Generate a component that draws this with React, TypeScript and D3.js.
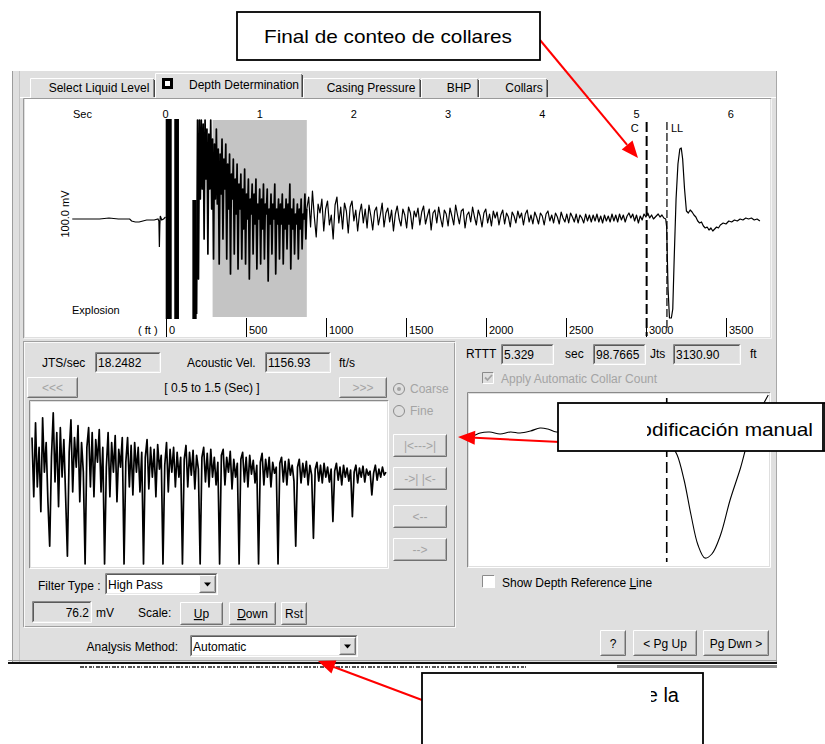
import React from "react";
import * as d3 from "d3";

type Pt = [number, number];

// ---- values read off the screenshot ----
const tabNames = ["Select Liquid Level", "Depth Determination", "Casing Pressure", "BHP", "Collars"];
const secTicks = [0, 1, 2, 3, 4, 5, 6];
const ftTicks = [0, 500, 1000, 1500, 2000, 2500, 3000, 3500];

// trace before the shot: [sec, mV]
const preShot: Pt[] = [
  [-0.99, 0], [-0.7, 0], [-0.6, 1], [-0.5, 0], [-0.38, 0], [-0.36, -2], [-0.32, -3], [-0.28, -3],
  [-0.24, -2], [-0.2, -1], [-0.12, -1], [-0.08, 0], [-0.07, -2], [-0.065, -28], [-0.06, -6],
  [-0.055, 3], [-0.04, -1], [-0.02, 0], [0, 2],
];

// saturated explosion bursts: [sec from, sec to, top mV, bottom mV]
const burstBars = [
  [0.002, 0.066, 100, -100],
  [0.093, 0.143, 100, -100],
  [0.285, 0.331, 19, -100],
];

// first echoes, one value every 0.01 s from 0.33 s
const earlyStart = 0.33;
const earlyStep = 0.01;
const earlyNoise = [
  -95, 99, -60, 99, 20, 99, 30, 95, -20, 99,
  40, 90, -35, 85, 30, 99, 10, 80, -40, 75,
  20, 90, 15, 70, -45, 65, 25, 80, -20, 60,
  30, 75, -40, 55, 10, 65, -55, 45, 20, 60,
  -35, 40, 5, 55, -50, 35, 10, 45, -40, 30,
  -10, 50, -45, 25, 0, 40, -60, 20, 5, 35,
  -35, 25, -5, 40, -50, 15, 0, 30, -45, 20,
  -10, 35, -40, 15, 5, 30, -62, 10, -5, 25,
  -35, 15, 0, 35, -55, 10, -5, 20, -40, 15,
  -5, 25, -45, 10, -10, 20, -30, 15, -5, 35,
  -50, 10, -10, 20, -35, 5, -5, 15, -40, 10,
  -10, 20, -30, 5, 0, 25, -20, 10,
];

// collar noise, one value every 0.02 s from 1.52 s
const midStart = 1.52;
const midStep = 0.02;
const midNoise = [
  22, -8, 28, 2, -18, 15, 6, 20, -12, 10,
  18, -6, 4, -20, 14, 22, -4, 12, -10, 16,
  8, -14, 12, 18, -2, 9, -12, 6, 15, -4,
  10, -9, 14, 3, -11, 8, 12, -6, 4, 16,
  -8, 6, 11, -3, 9, -12, 5, 13, 0, -7,
  10, 4, -9, 12, 6, -10, 8, 2, 11, -6,
  7, 13, -5, 3, 10, -11, 6, 9, -4, 12,
  1, -8, 9, 5, -7, 11, 3, -6, 14, 4,
  -5, 8, 10, -9, 4, 7, -3, 12, 2, -6,
  9, 3, -8, 6, 10, -4, 5, -7, 8, 1,
  7, -6, 4, 9, -5, 6, 2, -8, 7, 3,
  -4, 8, 1, 6, -6, 5, 9, -3, 4, -5,
  7, 2, -5, 6, 3, -6, 5, 8, -2, 4,
  -4, 6, 2, -5, 7, 1, -3, 5, -4, 6,
  2, -3, 5, -4, 4, 1, -4, 5, -2, 4,
  -3, 4, -2, 5, -3, 3, -4, 4, -2, 3,
  -3, 5, -2, 4, -3, 5, -1, 4, -3, 3,
  6, 1, 5, -2, 4, -4, 3, -1, 5, 2,
  6, 1, 4, 0, 2,
];

// liquid level echo: [sec, mV]
const echoTrace: Pt[] = [
  [5.21, 3], [5.23, 5], [5.25, 2], [5.27, 4], [5.29, 1], [5.31, 0], [5.32, -8], [5.335, -70],
  [5.35, -99], [5.37, -99], [5.385, -90], [5.4, -40], [5.42, 20], [5.44, 55], [5.46, 70],
  [5.475, 71], [5.49, 60], [5.51, 30], [5.53, 8], [5.55, 6], [5.57, 9], [5.59, 7], [5.61, 4],
  [5.63, 2], [5.65, -2], [5.67, -4], [5.69, -3], [5.71, -7], [5.73, -9], [5.75, -8], [5.77, -11],
  [5.79, -9], [5.81, -12], [5.83, -10], [5.85, -8], [5.87, -9], [5.89, -6], [5.92, -4],
  [5.95, -5], [5.98, -2], [6.01, -3], [6.04, -1], [6.07, -2], [6.1, 0], [6.13, -1], [6.16, 1],
  [6.19, 0], [6.22, 1], [6.25, -1], [6.28, 0], [6.31, -2],
];

// zoomed, filtered window 0.5 - 1.5 s, one value every 0.005 s
const zoomWindow = [0.5, 1.5];
const zoomStep = 0.005;
const zoomTrace = [
  40, -20, 55, -10, 30, -35, 60, 5, 35, -25, -70,
  20, 65, -5, 45, -30, 50, 0, 38, -20, -80,
  25, 58, -15, 40, 10, 52, -25, 35, 5, -88,
  30, 50, -10, 45, -20, 38, 15, 48, -15, 30, -88,
  10, 45, -20, 35, 5, 42, -25, 28, 10, 40, -88,
  15, 40, -10, 32, -18, 35, 5, 30, -15, 25, -88,
  20, 38, -12, 30, 0, 28, -20, 33, 8, 22, -88,
  12, 35, -15, 28, 5, 30, -10, 25, 0, 20, -88,
  18, 32, -10, 25, 2, 27, -12, 22, 8, -88,
  20, 30, -5, 24, -10, 28, 0, 20, -8, 15, -88,
  22, 28, -8, 20, 5, 26, -12, 18, 0, 14, -88,
  18, 25, -5, 20, -10, 22, 3, 17, -6, 12, -88,
  15, 24, -8, 18, 0, 20, -10, 15, 4, 10, -88,
  14, 20, -5, 16, -8, 18, 2, 12, -4, -70,
  10, 18, -6, 14, 0, 16, -8, 12, 2, -62,
  8, 15, -4, 12, -6, 14, 0, 10, -5, 8, -45,
  6, 14, -3, 10, -8, 12, 0, 9, -4, 7, -40,
  5, 12, -6, 9, 0, 11, -5, 8, 2, 6, -18,
  4, 12, -3, 8, 0, 10, 2, 5,
];

// liquid level detail: [sec, mV]
const collarTrace: Pt[] = [
  [5.104, 8], [5.114, 12], [5.125, 13], [5.137, 11], [5.149, 13], [5.16, 12], [5.172, 14],
  [5.183, 17], [5.192, 16], [5.202, 13], [5.23, 15], [5.265, 13], [5.3, 11], [5.32, 8],
  [5.334, 0], [5.341, -10], [5.349, -35], [5.357, -70], [5.365, -100], [5.373, -113],
  [5.381, -109], [5.391, -90], [5.402, -55], [5.414, -23], [5.423, 5], [5.437, 35], [5.446, 50],
];

const depthMarkers = [
  { label: "C", ft: 3004 },
  { label: "LL", ft: 3130.9 },
];

const jtsPerSec = "18.2482";
const acousticVel = "1156.93";
const rttt = "5.329";
const joints = "98.7665";
const depthFt = "3130.90";
const scaleMv = "76.2";

const BG = "#dfdfdf";
const DIS = "#a4a4a4";
const FONT = "'Liberation Sans', Arial, sans-serif";

// classic raised / sunken edges
const edge = (x: number, y: number, w: number, h: number, tl: string, br: string) => (
  <g fill="none">
    <polyline points={`${x + 0.5},${y + h - 0.5} ${x + 0.5},${y + 0.5} ${x + w - 0.5},${y + 0.5}`} stroke={tl} />
    <polyline points={`${x + w - 0.5},${y + 0.5} ${x + w - 0.5},${y + h - 0.5} ${x + 0.5},${y + h - 0.5}`} stroke={br} />
  </g>
);

const Button = ({ x, y, w, h, label, disabled = false, under = -1 }: any) => (
  <g>
    <rect x={x} y={y} width={w} height={h} fill={BG} />
    {edge(x, y, w, h, "#ffffff", "#707070")}
    {edge(x + 1, y + 1, w - 2, h - 2, BG, "#ababab")}
    <text x={x + w / 2} y={y + h / 2 + 4.5} textAnchor="middle" fontSize={12} fill={disabled ? DIS : "#000"}>
      {under < 0
        ? label
        : [
            label.slice(0, under),
            <tspan key="u" textDecoration="underline">{label[under]}</tspan>,
            label.slice(under + 1),
          ]}
    </text>
  </g>
);

const Field = ({ x, y, w, h, value, fill = BG, right = false }: any) => (
  <g>
    <rect x={x} y={y} width={w} height={h} fill={fill} />
    {edge(x, y, w, h, "#8a8a8a", "#ffffff")}
    {edge(x + 1, y + 1, w - 2, h - 2, "#5a5a5a", "#e8e8e8")}
    <text x={right ? x + w - 3 : x + 3} y={y + h / 2 + 4.5} textAnchor={right ? "end" : "start"} fontSize={12}>
      {value}
    </text>
  </g>
);

const Combo = ({ x, y, w, h, value }: any) => (
  <g>
    <Field x={x} y={y} w={w} h={h} value={value} fill="#ffffff" />
    <Button x={x + w - 19} y={y + 2} w={17} h={h - 4} label="" />
    <path d={`M${x + w - 14},${y + h / 2 - 1.5} h7 l-3.5,4 z`} fill="#000" />
  </g>
);

const Arrow = ({ x1, y1, x2, y2 }: any) => {
  const a = Math.atan2(y2 - y1, x2 - x1);
  const L = 17;
  const W = 7;
  const bx = x2 - L * Math.cos(a);
  const by = y2 - L * Math.sin(a);
  const pts = [
    [x2, y2],
    [bx + W * Math.sin(a), by - W * Math.cos(a)],
    [bx - W * Math.sin(a), by + W * Math.cos(a)],
  ];
  return (
    <g>
      <line x1={x1} y1={y1} x2={bx} y2={by} stroke="#ff0000" strokeWidth={2} />
      <polygon points={pts.map((p) => p.join(",")).join(" ")} fill="#ff0000" />
    </g>
  );
};

export default function App() {
  // main acoustic trace
  const xT = d3.scaleLinear().domain([0, 6]).range([165.5, 730.7]);
  const yT = d3.scaleLinear().domain([-100, 100]).range([319, 119]);
  const ftX = d3.scaleLinear().domain([0, 3500]).range([166, 726]);
  const mainLine = d3.line<Pt>().x((d) => xT(d[0])).y((d) => yT(d[1]));
  const earlyPts: Pt[] = earlyNoise.map((v, i) => [earlyStart + i * earlyStep, v] as Pt);
  const latePts: Pt[] = [
    earlyPts[earlyPts.length - 1],
    ...midNoise.map((v, i) => [midStart + i * midStep, v] as Pt),
    ...echoTrace,
  ];

  // zoomed window
  const xZ = d3.scaleLinear().domain(zoomWindow).range([32, 386]);
  const yZ = d3.scaleLinear().domain([-90, 76]).range([566, 402]);
  const zoomLine = d3.line<Pt>().x((d) => xZ(d[0])).y((d) => yZ(d[1]));
  const zoomPts: Pt[] = zoomTrace.map((v, i) => [zoomWindow[0] + i * zoomStep, v] as Pt);

  // liquid level detail
  const xR = d3.scaleLinear().domain([5.1, 5.448]).range([468, 770]);
  const yR = d3.scaleLinear().domain([-115, 50]).range([560, 395]);
  const rLine = d3.line<Pt>().x((d) => xR(d[0])).y((d) => yR(d[1])).curve(d3.curveCatmullRom);

  const tabEdges = [30, 155, 303, 421, 479, 548];
  const tabCenters = [99, 240, 371, 459, 524];

  return (
    <svg
      width={825}
      height={744}
      style={{ position: "absolute", left: 0, top: 0, fontFamily: FONT, background: "#fff" }}
    >
      <defs>
        <clipPath id="clipMain"><rect x={25} y={99} width={745} height={238} /></clipPath>
        <clipPath id="clipZoom"><rect x={31} y={402} width={356} height={165} /></clipPath>
        <clipPath id="clipRight"><rect x={469} y={394} width={300} height={172} /></clipPath>
        <clipPath id="clipMid"><rect x={647} y={404} width={178} height={46} /></clipPath>
        <clipPath id="clipLow"><rect x={651} y={676} width={60} height={40} /></clipPath>
      </defs>

      {/* window body */}
      <rect x={12} y={71} width={765} height={591} fill={BG} />
      <line x1={12.5} y1={71} x2={12.5} y2={662} stroke="#9c9c9c" />
      <line x1={19.5} y1={71} x2={19.5} y2={662} stroke="#c4c4c4" />
      <line x1={776.5} y1={71} x2={776.5} y2={662} stroke="#a8a8a8" />
      <line x1={20} y1={97.5} x2={776} y2={97.5} stroke="#ffffff" />

      {/* tabs */}
      {tabNames.map((name, i) => {
        const sel = i === 1;
        const x0 = tabEdges[i];
        const x1 = tabEdges[i + 1];
        const top = sel ? 73 : 78;
        return (
          <g key={name}>
            <rect x={x0} y={top} width={x1 - x0} height={98 - top} fill={BG} />
            <polyline
              points={`${x0 + 0.5},${98} ${x0 + 0.5},${top + 0.5} ${x1 - 1.5},${top + 0.5}`}
              stroke="#ffffff"
              fill="none"
            />
            <line x1={x1 - 1.5} y1={top + 1} x2={x1 - 1.5} y2={97} stroke="#8a8a8a" />
            <line x1={x1 - 0.5} y1={top + 2} x2={x1 - 0.5} y2={97} stroke="#444" />
            <text x={tabCenters[i] + (sel ? 4 : 0)} y={sel ? 89 : 92} textAnchor="middle" fontSize={12}>
              {name}
            </text>
            {sel && (
              <g>
                <rect x={162} y={78} width={11} height={11} fill="#000" />
                <rect x={165} y={81} width={5} height={5} fill="#fff" />
              </g>
            )}
          </g>
        );
      })}

      {/* main plot */}
      <rect x={25} y={99} width={745} height={238} fill="#fff" />
      {edge(23, 98, 749, 241, "#9a9a9a", "#f4f4f4")}
      <rect
        x={xT(zoomWindow[0])}
        y={120}
        width={xT(zoomWindow[1]) - xT(zoomWindow[0])}
        height={197}
        fill="#c4c4c4"
      />
      <g clipPath="url(#clipMain)">
        {burstBars.map((b, i) => (
          <rect key={i} x={xT(b[0])} y={yT(b[2])} width={xT(b[1]) - xT(b[0])} height={yT(b[3]) - yT(b[2])} fill="#000" />
        ))}
        <path d={mainLine(preShot) || ""} fill="none" stroke="#000" strokeWidth={1.2} />
        <path d={mainLine(earlyPts) || ""} fill="none" stroke="#000" strokeWidth={1.7} strokeLinejoin="round" />
        <path d={mainLine(latePts) || ""} fill="none" stroke="#000" strokeWidth={1.2} strokeLinejoin="round" />
      </g>
      <g fontSize={11}>
        <text x={73} y={118}>Sec</text>
        {secTicks.map((s) => (
          <text key={s} x={xT(s)} y={118} textAnchor="middle">{s}</text>
        ))}
        <text x={72} y={314}>Explosion</text>
        <text transform="translate(69,214) rotate(-90)" textAnchor="middle">100.0 mV</text>
        <text x={138} y={334}>( ft )</text>
        {ftTicks.map((f) => (
          <g key={f}>
            <line x1={ftX(f) + 0.5} y1={318} x2={ftX(f) + 0.5} y2={337} stroke="#000" />
            <text x={ftX(f) + 3} y={334}>{f}</text>
          </g>
        ))}
        {depthMarkers.map((m, i) => (
          <g key={m.label}>
            <line
              x1={ftX(m.ft)}
              y1={122}
              x2={ftX(m.ft)}
              y2={i === 0 ? 336 : 330}
              stroke="#000"
              strokeWidth={i === 0 ? 2 : 1.2}
              strokeDasharray={i === 0 ? "10 4" : "8 3"}
            />
            <text x={i === 0 ? ftX(m.ft) - 8 : ftX(m.ft) + 4} y={132} textAnchor={i === 0 ? "end" : "start"} fontSize={11} fill="#000">
              {m.label}
            </text>
          </g>
        ))}
      </g>

      {/* left group */}
      <rect x={23.5} y={341.5} width={431} height={285} fill="none" stroke="#a0a0a0" />
      <rect x={24.5} y={342.5} width={431} height={285} fill="none" stroke="#ffffff" strokeOpacity={0.8} />
      <g fontSize={12}>
        <text x={42} y={367}>JTS/sec</text>
        <Field x={95} y={352} w={66} h={21} value={jtsPerSec} />
        <text x={187} y={367}>Acoustic Vel.</text>
        <Field x={265} y={352} w={66} h={21} value={acousticVel} />
        <text x={339} y={367}>ft/s</text>
        <Button x={27} y={377} w={51} h={21} label="<<<" disabled />
        <text x={212} y={392} textAnchor="middle">
          [ {zoomWindow[0]}  to  {zoomWindow[1]} (Sec) ]
        </text>
        <Button x={339} y={377} w={48} h={21} label=">>>" disabled />

        <circle cx={399} cy={389} r={5.5} fill={BG} stroke="#8c8c8c" />
        <circle cx={399} cy={389} r={2} fill={DIS} />
        <text x={410} y={393} fill={DIS}>Coarse</text>
        <circle cx={399} cy={411} r={5.5} fill={BG} stroke="#8c8c8c" />
        <text x={410} y={415} fill={DIS}>Fine</text>

        <rect x={31} y={402} width={356} height={165} fill="#fff" />
        {edge(29, 400, 360, 169, "#8a8a8a", "#ffffff")}
        <path d={zoomLine(zoomPts) || ""} clipPath="url(#clipZoom)" fill="none" stroke="#000" strokeWidth={1.7} strokeLinejoin="round" />

        <Button x={393} y={434} w={54} h={23} label="|<--->|" disabled />
        <Button x={393} y={467} w={54} h={23} label="->| |<-" disabled />
        <Button x={393} y={505} w={54} h={23} label="<--" disabled />
        <Button x={393} y={538} w={54} h={23} label="-->" disabled />

        <text x={38} y={590}>Filter Type :</text>
        <Combo x={105} y={573} w={113} h={22} value="High Pass" />
        <Field x={32} y={601} w={60} h={22} value={scaleMv} right />
        <text x={96} y={617}>mV</text>
        <text x={138} y={617}>Scale:</text>
        <Button x={180} y={602} w={43} h={23} label="Up" under={0} />
        <Button x={229} y={602} w={47} h={23} label="Down" under={0} />
        <Button x={281} y={602} w={26} h={23} label="Rst" />

        <text x={178} y={651} textAnchor="end">
          Ana<tspan textDecoration="underline">l</tspan>ysis Method:
        </text>
        <Combo x={190} y={635} w={168} h={22} value="Automatic" />

        {/* right side */}
        <text x={466} y={358}>RTTT</text>
        <Field x={501} y={344} w={53} h={21} value={rttt} />
        <text x={565} y={358}>sec</text>
        <Field x={593} y={344} w={53} h={21} value={joints} />
        <text x={650} y={358}>Jts</text>
        <Field x={673} y={344} w={68} h={21} value={depthFt} />
        <text x={750} y={358}>ft</text>

        <rect x={482} y={372} width={12} height={12} fill={BG} />
        {edge(482, 372, 12, 12, "#8a8a8a", "#ffffff")}
        <path d="M485,377.5 l2.5,2.5 l4.5,-5" fill="none" stroke={DIS} strokeWidth={1.8} />
        <text x={501} y={383} fill={DIS}>Apply Automatic Collar Count</text>

        <rect x={469} y={394} width={300} height={172} fill="#fff" />
        {edge(467, 392, 304, 176, "#8a8a8a", "#ffffff")}
        <g clipPath="url(#clipRight)">
          <line x1={xR(Number(rttt))} y1={398} x2={xR(Number(rttt))} y2={562} stroke="#000" strokeWidth={1.6} strokeDasharray="11 5" />
          <path d={rLine(collarTrace) || ""} fill="none" stroke="#000" strokeWidth={1.1} />
        </g>

        <rect x={482} y={575} width={13} height={13} fill="#fff" />
        {edge(482, 575, 13, 13, "#8a8a8a", "#ffffff")}
        <text x={502} y={587}>
          Show Depth Reference <tspan textDecoration="underline">L</tspan>ine
        </text>

        <Button x={600} y={630} w={26} h={26} label="?" />
        <Button x={633} y={630} w={64} h={26} label="< Pg Up" />
        <Button x={703} y={630} w={66} h={26} label="Pg Dwn >" />
      </g>

      {/* window bottom */}
      <line x1={8} y1={660.5} x2={777} y2={660.5} stroke="#9a9a9a" />
      <line x1={8} y1={663} x2={777} y2={663} stroke="#111" strokeWidth={2} />
      <rect x={617} y={665} width={160} height={3} fill="#8c8c8c" />
      <line x1={80} y1={667} x2={527} y2={667} stroke="#555" strokeWidth={2} strokeDasharray="4 1 2 2 3 1 1 2" />

      {/* annotations */}
      <Arrow x1={540} y1={40} x2={638} y2={158} />
      <Arrow x1={560} y1={442} x2={458} y2={437} />
      <Arrow x1={422} y1={700} x2={318} y2={661} />

      <rect x={237} y={12} width={303} height={48} fill="#fff" stroke="#000" strokeWidth={1.8} />
      <text x={264} y={43} fontSize={19} textLength={248} lengthAdjust="spacingAndGlyphs">
        Final de conteo de collares
      </text>

      <rect x={558} y={403} width={267} height={48} fill="#fff" stroke="#000" strokeWidth={1.8} />
      <line x1={823} y1={403} x2={823} y2={451} stroke="#000" strokeWidth={1.8} />
      <text clipPath="url(#clipMid)" x={813} y={436} fontSize={19} textAnchor="end" textLength={190} lengthAdjust="spacingAndGlyphs">
        Modificación manual
      </text>

      <rect x={422} y={673} width={281} height={80} fill="#fff" stroke="#000" strokeWidth={1.8} />
      <text clipPath="url(#clipLow)" x={679} y={702} fontSize={20} textAnchor="end">
        de la
      </text>
    </svg>
  );
}
